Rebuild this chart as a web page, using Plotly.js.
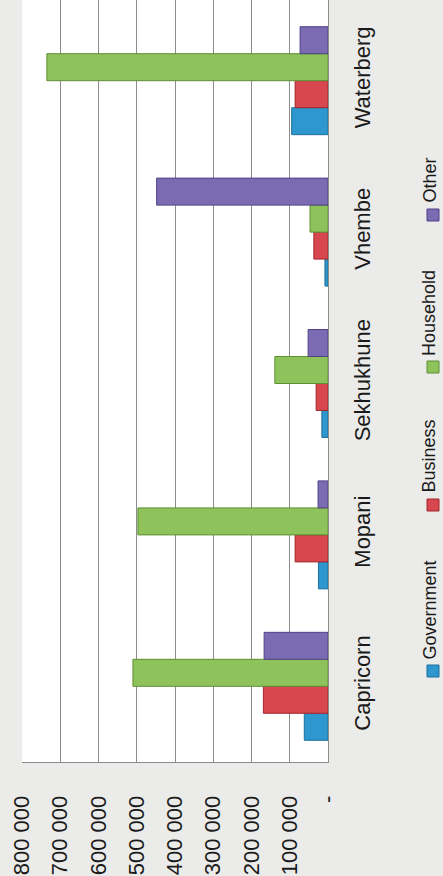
<!DOCTYPE html>
<html>
<head>
<meta charset="utf-8">
<script src="https://cdn.plot.ly/plotly-3.0.1.min.js"></script>
<style>html,body{margin:0;padding:0;background:#ebebe9;}#chart{width:443px;height:876px;}</style>
</head>
<body>
<div id="chart"></div>
<script>
const categories = ["Capricorn", "Mopani", "Sekhukhune", "Vhembe", "Waterberg"];
const seriesNames = ["Government", "Business", "Household", "Other"];
const government = [62000, 25000, 16000, 8000, 95000];
const business = [169000, 86000, 31000, 37000, 86000];
const household = [510000, 497000, 139000, 47000, 735000];
const other = [167000, 26000, 52000, 448000, 73000];
const tickValues = [0, 100000, 200000, 300000, 400000, 500000, 600000, 700000, 800000];
const tickLabels = ["-", "100 000", "200 000", "300 000", "400 000", "500 000", "600 000", "700 000", "800 000"];

const colors = ["#2E97CF", "#D8464E", "#8DC35A", "#7A6BB3"];
const lineColors = ["#1d6f99", "#a3282f", "#5f8f35", "#4f4385"];
const seriesValues = [government, business, household, other];
const FONT = "'Liberation Sans', Arial, sans-serif";

const traces = seriesValues.map((vals, i) => ({
  type: "bar",
  orientation: "h",
  name: seriesNames[i],
  y: categories,
  x: vals,
  marker: {color: colors[i], line: {color: lineColors[i], width: 1}},
  hoverinfo: "x+name"
}));

// legend drawn as rotated annotations + swatches
const legendY = [662, 495, 358, 205];   // pixel bottom of each label
const swatchY = [671, 505, 367, 215];
const plotTop = 0, plotBottom = 762, plotLeft = 22, plotRight = 328;
const ph = plotBottom - plotTop, pw = plotRight - plotLeft;
const legendX = (429 - plotLeft) / pw;
const swatchX = (433 - plotLeft) / pw;

const annotations = seriesNames.map((n, i) => ({
  text: n, textangle: -90, showarrow: false,
  xref: "paper", yref: "paper",
  x: legendX, y: (plotBottom - legendY[i]) / ph,
  xanchor: "center", yanchor: "bottom",
  font: {family: FONT, size: 18, color: "#1a1a1a"}
}));
const shapes = seriesNames.map((n, i) => ({
  type: "rect", xref: "paper", yref: "paper",
  xsizemode: "pixel", ysizemode: "pixel",
  xanchor: swatchX, yanchor: (plotBottom - swatchY[i]) / ph,
  x0: -6, x1: 6, y0: -6, y1: 6,
  fillcolor: colors[i], line: {color: lineColors[i], width: 1}
}));

const layout = {
  width: 443, height: 876,
  margin: {l: plotLeft, r: 443 - plotRight, t: plotTop, b: 876 - plotBottom},
  paper_bgcolor: "#ebebe9",
  plot_bgcolor: "#ffffff",
  barmode: "group",
  bargap: 0.287,
  bargroupgap: 0,
  showlegend: false,
  font: {family: FONT, color: "#1a1a1a"},
  xaxis: {
    range: [800000, 0],
    tickvals: tickValues, ticktext: tickLabels,
    tickangle: -90,
    showgrid: true, gridcolor: "#8c8c8c", gridwidth: 1,
    zeroline: false,
    showline: true, linecolor: "#8c8c8c", linewidth: 1,
    ticks: "", ticklabelstandoff: 24,
    tickfont: {family: FONT, size: 22, color: "#1a1a1a"},
    fixedrange: true
  },
  yaxis: {
    type: "category",
    side: "right",
    range: [-0.5, 4.533],
    tickangle: -90,
    showgrid: false,
    showline: true, linecolor: "#8c8c8c", linewidth: 1,
    ticks: "", ticklabelstandoff: 15,
    tickfont: {family: FONT, size: 22, color: "#1a1a1a"},
    fixedrange: true
  },
  annotations: annotations,
  shapes: shapes
};

Plotly.newPlot("chart", traces, layout, {displayModeBar: false, staticPlot: true});
</script>
</body>
</html>
